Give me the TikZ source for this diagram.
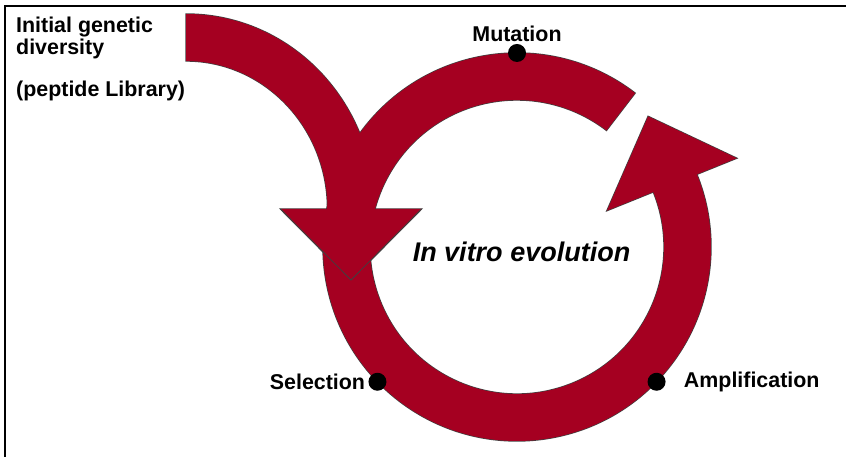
\documentclass[tikz,border=0pt]{standalone}
\usepackage{fontspec}
\setmainfont{Liberation Sans}
\usetikzlibrary{calc,positioning}
\definecolor{cyclered}{HTML}{A50021}
\tikzstyle{arrowfill} = [fill=cyclered]
\tikzstyle{arrowedge} = [draw=black!75, line width=1.4pt]
\tikzstyle{cycledot} = [circle, fill=black, inner sep=0pt, minimum size=18pt]
\tikzstyle{steplabel} = [font=\fontsize{21.4}{22}\selectfont\bfseries, inner sep=0pt]
\tikzstyle{cycletitle} = [font=\fontsize{27}{30}\selectfont\bfseries\itshape, inner sep=0pt]
\newcommand{\ringpath}{($(C)+(52.5:194)$) arc[start angle=52.5, end angle=382, radius=194]
    -- ($(C)+(22:237)$) -- ($(C)+(22:170.5)+(112:72)$) -- ($(C)+(22:97)$) -- ($(C)+(22:147)$)
    arc[start angle=382, end angle=52.5, radius=147] -- cycle}
\newcommand{\feedpath}{($(A)+(0,195)$) arc[start angle=90, end angle=0, x radius=188.5, y radius=195]
    -- (hr) -- (ht) -- (hl) -- ($(A)+(141.5,0)$)
    arc[start angle=0, end angle=90, x radius=141.5, y radius=148] -- cycle}
\begin{document}
\begin{tikzpicture}[x=1pt,y=1pt]
    \useasboundingbox (0,0) rectangle (846,457);
    \draw[line width=2pt] (5,0) -- (5,451) -- (846,451);
    \coordinate (C) at (517,210);
    \coordinate (A) at (186,248);
    \coordinate (hl) at ($(A)+(94.5,0)$);
    \coordinate (ht) at ($(A)+(165,-71)$);
    \coordinate (hr) at ($(A)+(235.5,0)$);
    % outlines first, then fills on top
    \draw[arrowedge] \ringpath;
    \draw[arrowedge] \feedpath;
    \fill[arrowfill] \ringpath;
    \fill[arrowfill] \feedpath;
    \draw[arrowedge, line width=0.8pt] (hl) -- (ht) -- (hr);
    \node[cycledot] (mut) at ($(C)+(90:194)$) {};
    \node[cycledot] (sel) at ($(C)+(224:194)$) {};
    \node[cycledot] (amp) at ($(C)+(316:194)$) {};
    \node[steplabel, above=2pt of mut] (mutlbl) {Mutation};
    \node[steplabel, left=3pt of sel] (sellbl) {Selection};
    \node[steplabel, right=18pt of amp] (amplbl) {Amplification};
    \node[steplabel, align=left, anchor=north west] (lib) at (16,440)
        {Initial genetic\\diversity\\[20pt](peptide Library)};
    \node[cycletitle] (evo) at ($(C)+(4.5,-5)$) {In vitro evolution};
\end{tikzpicture}
\end{document}
